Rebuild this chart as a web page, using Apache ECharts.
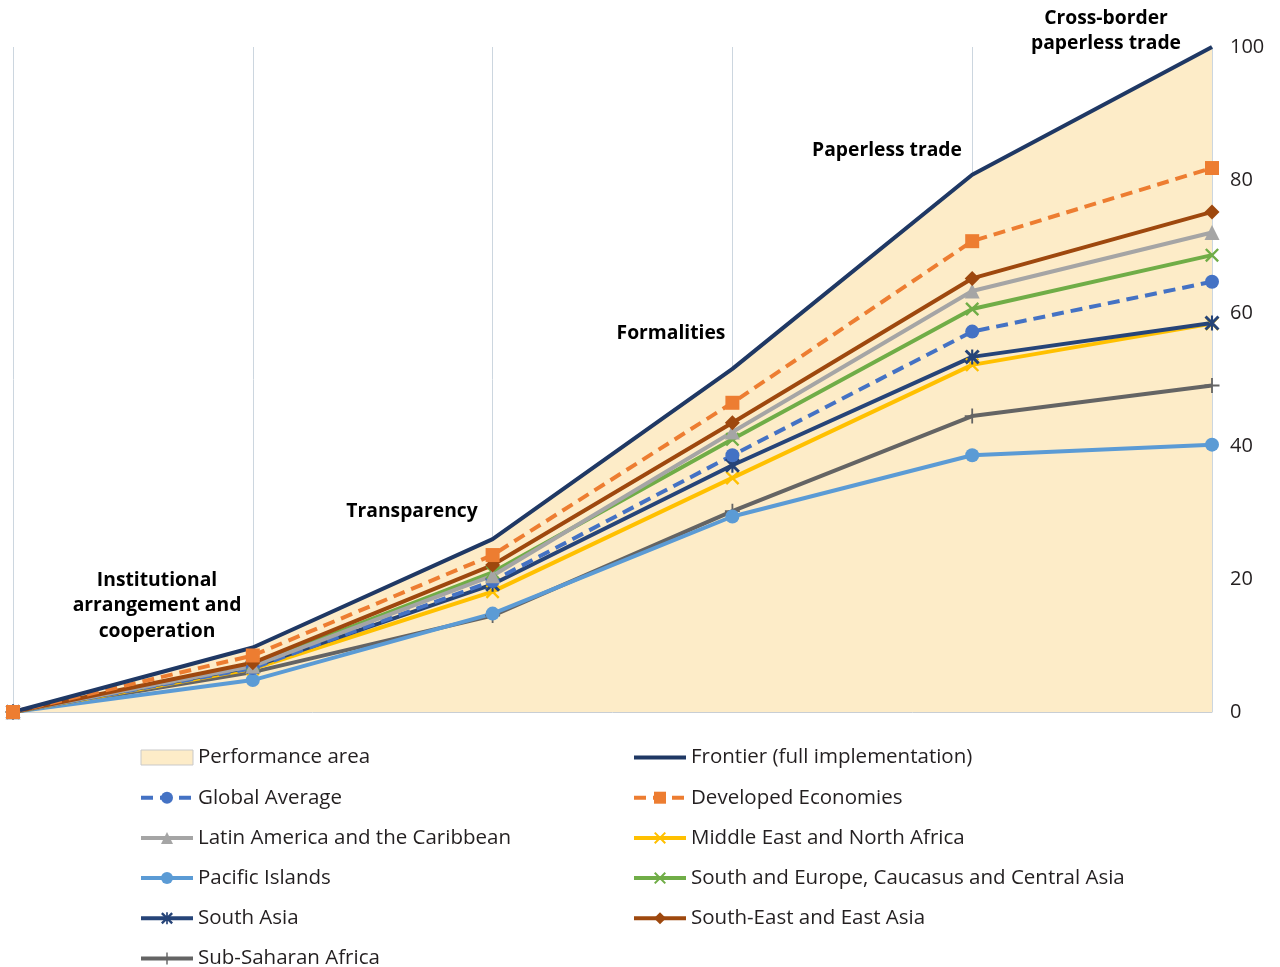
<!DOCTYPE html>
<html>
<head>
<meta charset="utf-8">
<script src="https://cdn.jsdelivr.net/npm/echarts@6/dist/echarts.min.js"></script>
<style>
html,body{margin:0;padding:0;background:#fff;}
#chart{width:1280px;height:967px;}
</style>
</head>
<body>
<div id="chart"></div>
<script>
// ---- data ----
var stages = ['Start', 'Institutional arrangement and cooperation', 'Transparency', 'Formalities', 'Paperless trade', 'Cross-border paperless trade'];
var yTicks = [0, 20, 40, 60, 80, 100];
var frontier  = [0, 9.7, 26.0, 51.6, 80.8, 100];
var developed = [0, 8.5, 23.6, 46.5, 70.8, 81.8];
var globalAvg = [0, 6.6, 19.7, 38.6, 57.2, 64.7];
var latinAm   = [0, 6.9, 20.5, 42.1, 63.3, 72.1];
var pacific   = [0, 4.8, 14.8, 29.4, 38.6, 40.2];
var southAsia = [0, 6.8, 19.2, 37.1, 53.4, 58.5];
var ssa       = [0, 6.0, 14.5, 30.2, 44.5, 49.1];
var mena      = [0, 6.5, 18.1, 35.2, 52.2, 58.4];
var seca      = [0, 7.1, 21.0, 41.0, 60.6, 68.7];
var seea      = [0, 7.4, 22.1, 43.5, 65.2, 75.2];

var FONT = '"Open Sans", "Noto Sans", sans-serif';
var XMARK = 'path://M0,1.2 L1.2,0 L10,8.8 L8.8,10 Z M8.8,0 L10,1.2 L1.2,10 L0,8.8 Z';
var PLUS = 'path://M4.4,0 H5.6 V10 H4.4 Z M0,4.4 H10 V5.6 H0 Z';
var STAR = 'path://M0,1.4 L1.4,0 L10,8.6 L8.6,10 Z M8.6,0 L10,1.4 L1.4,10 L0,8.6 Z M4.3,0 H5.7 V10 H4.3 Z';
var LINE_ICON = 'path://M0,0 H52 V0.01 H0 Z M0,5.5 H52 V9.5 H0 Z M0,14.99 H52 V15 H0 Z';

function lineSeries(name, data, color, symbol, size, dashed) {
  return {
    name: name, type: 'line', data: data,
    symbol: symbol, symbolSize: size, showSymbol: symbol !== 'none',
    lineStyle: { color: color, width: 4, type: dashed ? [12, 7] : 'solid' },
    itemStyle: { color: color },
    emphasis: { disabled: true },
    animation: false
  };
}

var legendText = { fontSize: 20.5, fontFamily: FONT, color: '#231f20', lineHeight: 20 };
var ANNOT_FONT = 'bold 19.3px ' + FONT;

var chart = echarts.init(document.getElementById('chart'));
var option = {
  animation: false,
  grid: { left: 13, right: 68, top: 47, bottom: 255 },
  xAxis: {
    type: 'category', data: stages, boundaryGap: false,
    axisLine: { lineStyle: { color: '#c8ced4', width: 1 } },
    axisTick: { show: false }, axisLabel: { show: false, interval: 0 },
    splitLine: { show: true, interval: 0, lineStyle: { color: '#ccd6df', width: 1 } }
  },
  yAxis: {
    type: 'value', position: 'right', min: yTicks[0], max: yTicks[yTicks.length - 1], interval: 20,
    axisLine: { show: false }, axisTick: { show: false }, splitLine: { show: false },
    axisLabel: { color: '#231f20', fontSize: 20, fontFamily: FONT, margin: 18 }
  },
  legend: [{
    orient: 'vertical', left: 139, top: 747, height: 300, padding: 0,
    itemWidth: 52, itemHeight: 15, itemGap: 19.2,
    textStyle: legendText, lineStyle: { width: 4 },
    data: [
      { name: 'Performance area', icon: 'rect', itemStyle: { color: '#fdecc8', borderColor: '#c9c9c9', borderWidth: 1 } },
      'Global Average', 'Latin America and the Caribbean', 'Pacific Islands', 'South Asia', 'Sub-Saharan Africa'
    ]
  }, {
    orient: 'vertical', left: 632, top: 747, height: 300, padding: 0,
    itemWidth: 52, itemHeight: 15, itemGap: 19.2,
    textStyle: legendText, lineStyle: { width: 4 },
    data: [
      { name: 'Frontier (full implementation)', icon: LINE_ICON, itemStyle: { color: '#1f3864' } },
      'Developed Economies', 'Middle East and North Africa',
      'South and Europe, Caucasus and Central Asia', 'South-East and East Asia']
  }],
  graphic: [
    { type: 'text', x: 157, y: 606, style: { text: 'Institutional\narrangement and\ncooperation', font: ANNOT_FONT, fill: '#000', textAlign: 'center', textVerticalAlign: 'middle', lineHeight: 25.5 } },
    { type: 'text', x: 412, y: 512, style: { text: 'Transparency', font: ANNOT_FONT, fill: '#000', textAlign: 'center', textVerticalAlign: 'middle' } },
    { type: 'text', x: 671, y: 334, style: { text: 'Formalities', font: ANNOT_FONT, fill: '#000', textAlign: 'center', textVerticalAlign: 'middle' } },
    { type: 'text', x: 887, y: 151, style: { text: 'Paperless trade', font: ANNOT_FONT, fill: '#000', textAlign: 'center', textVerticalAlign: 'middle' } },
    { type: 'text', x: 1106, y: 31.5, style: { text: 'Cross-border\npaperless trade', font: ANNOT_FONT, fill: '#000', textAlign: 'center', textVerticalAlign: 'middle', lineHeight: 25 } }
  ],
  series: [
    {
      name: 'Performance area', type: 'line', data: frontier, symbol: 'none', showSymbol: false,
      lineStyle: { width: 0 }, itemStyle: { color: '#fdecc8' },
      areaStyle: { color: '#fdecc8', opacity: 1 }, emphasis: { disabled: true }, z: 1
    },
    lineSeries('Sub-Saharan Africa', ssa, '#646464', PLUS, 15, false),
    lineSeries('Pacific Islands', pacific, '#5b9bd5', 'circle', 14, false),
    lineSeries('Middle East and North Africa', mena, '#ffc000', XMARK, 14, false),
    lineSeries('South Asia', southAsia, '#264478', STAR, 15, false),
    lineSeries('Global Average', globalAvg, '#4472c4', 'circle', 14, true),
    lineSeries('South and Europe, Caucasus and Central Asia', seca, '#70ad47', XMARK, 14, false),
    lineSeries('Latin America and the Caribbean', latinAm, '#a5a5a5', 'triangle', 15, false),
    lineSeries('South-East and East Asia', seea, '#9e480e', 'diamond', 15, false),
    lineSeries('Developed Economies', developed, '#ed7d31', 'rect', 14, true),
    lineSeries('Frontier (full implementation)', frontier, '#1f3864', 'none', 0, false)
  ]
};
chart.setOption(option);
</script>
</body>
</html>
